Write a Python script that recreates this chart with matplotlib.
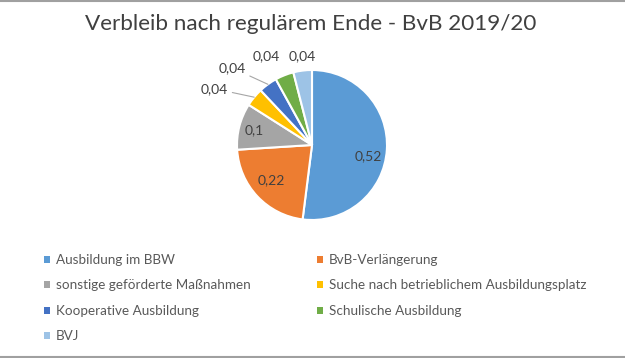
import matplotlib.pyplot as plt
from matplotlib.patches import Patch
from matplotlib.lines import Line2D
import numpy as np

categories = ['Ausbildung im BBW', 'BvB-Verlängerung', 'sonstige geförderte Maßnahmen',
              'Suche nach betrieblichem Ausbildungsplatz', 'Kooperative Ausbildung',
              'Schulische Ausbildung', 'BVJ']
values = [0.52, 0.22, 0.1, 0.04, 0.04, 0.04, 0.04]
value_labels = ['0,52', '0,22', '0,1', '0,04', '0,04', '0,04', '0,04']
colors = ['#5B9BD5', '#ED7D31', '#A5A5A5', '#FFC000', '#4472C4', '#70AD47', '#9DC3E6']

plt.rcParams['font.family'] = ['Lato', 'DejaVu Sans']

W, H = 625, 358
fig = plt.figure(figsize=(W / 100, H / 100), dpi=100)

# pie placement in pixels
cx, cy, r = 312, 145, 75
ax = fig.add_axes([(cx - r) / W, 1 - (cy + r) / H, 2 * r / W, 2 * r / H])
wedges, _ = ax.pie(values, colors=colors, startangle=90, counterclock=False, radius=1,
                   wedgeprops=dict(edgecolor='white', linewidth=1.5))
ax.set_xlim(-1, 1)
ax.set_ylim(-1, 1)
ax.set_aspect('equal')
ax.axis('off')

# label positions as (angle in deg, radius) relative to the pie
label_pos = [(-11, 0.76), (-139.5, 0.72), (166, 0.8), (150, 1.5), (136, 1.48), (117, 1.33), (96.5, 1.19)]
leader = [False, False, False, True, True, False, False]
for w, lab, (ang, rad), ld in zip(wedges, value_labels, label_pos, leader):
    tx, ty = rad * np.cos(np.radians(ang)), rad * np.sin(np.radians(ang))
    if ld:
        mid = np.radians((w.theta1 + w.theta2) / 2)
        ax.annotate(lab, xy=(np.cos(mid), np.sin(mid)), xytext=(tx, ty),
                    ha='center', va='center', fontsize=10, color='#404040',
                    arrowprops=dict(arrowstyle='-', color='#A6A6A6', lw=0.8,
                                    shrinkA=1, shrinkB=0))
    else:
        ax.text(tx, ty, lab, ha='center', va='center', fontsize=10, color='#404040')

fig.text(311 / W, 1 - 24 / H, 'Verbleib nach regulärem Ende - BvB 2019/20',
         ha='center', va='center', fontsize=16.2, color='#404040')

handles = [Patch(facecolor=c, edgecolor='none') for c in colors]
leg_kw = dict(loc='upper left', frameon=False, fontsize=9.7, labelcolor='#595959',
              handlelength=0.42, handleheight=0.42, handletextpad=0.45,
              labelspacing=1.0, borderpad=0, borderaxespad=0)
idx1 = [0, 2, 4, 6]
idx2 = [1, 3, 5]
leg1 = fig.legend([handles[i] for i in idx1], [categories[i] for i in idx1],
                  bbox_to_anchor=(44 / W, 1 - 254 / H), **leg_kw)
leg2 = fig.legend([handles[i] for i in idx2], [categories[i] for i in idx2],
                  bbox_to_anchor=(317 / W, 1 - 254 / H), **leg_kw)

# thin gray border lines top and bottom
fig.add_artist(Line2D([0, 1], [1 - 0.5 / H, 1 - 0.5 / H], color='#A0A0A0', lw=1.5))
fig.add_artist(Line2D([0, 1], [1 - 356.5 / H, 1 - 356.5 / H], color='#A0A0A0', lw=1.5))

fig.savefig('out.png', dpi=100)
